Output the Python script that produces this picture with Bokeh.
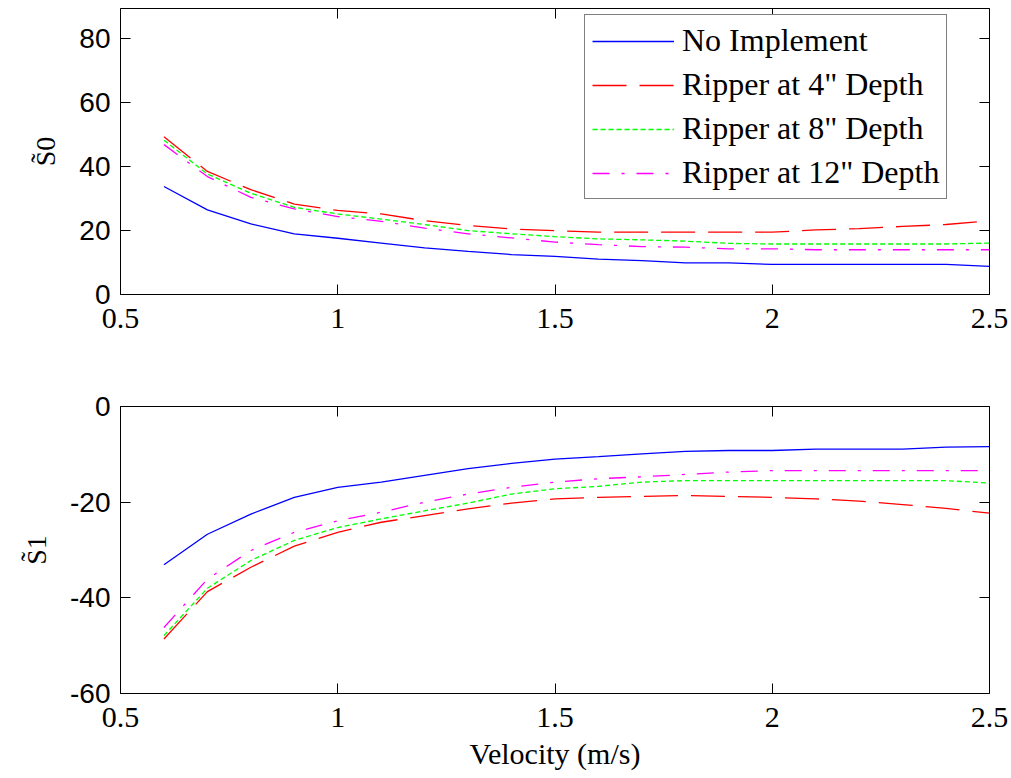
from bokeh.plotting import figure
from bokeh.models import (Range1d, LinearAxis, FixedTicker, Legend, LegendItem,
                          NumeralTickFormatter, CustomJSTickFormatter)
from bokeh.layouts import column
from bokeh.embed import file_html
from bokeh.resources import INLINE

# ---------------- data ----------------
velocity = [0.6, 0.7, 0.8, 0.9, 1.0, 1.1, 1.2, 1.3, 1.4, 1.5,
            1.6, 1.7, 1.8, 1.9, 2.0, 2.1, 2.2, 2.3, 2.4, 2.5]

series_names = ["No Implement", "Ripper at 4\" Depth", "Ripper at 8\" Depth", "Ripper at 12\" Depth"]

no_impl_s0 = [33.8, 26.5, 22.1, 19.0, 17.6, 16.1, 14.6, 13.5, 12.5, 11.9,
              11.1, 10.6, 9.9, 9.9, 9.4, 9.4, 9.4, 9.4, 9.4, 8.8]
rip4_s0 = [49.4, 38.5, 32.8, 28.3, 26.3, 25.2, 23.1, 21.6, 20.5, 20.0,
           19.5, 19.5, 19.5, 19.5, 19.5, 20.2, 20.6, 21.3, 21.9, 23.1]
rip8_s0 = [48.3, 37.7, 31.7, 27.3, 25.2, 23.6, 21.9, 20.0, 19.0, 18.1,
           17.4, 17.1, 16.7, 16.0, 15.8, 15.8, 15.8, 15.8, 15.8, 16.1]
rip12_s0 = [46.9, 36.9, 30.4, 26.8, 24.4, 22.9, 20.8, 19.0, 17.7, 16.4,
            15.6, 15.0, 14.8, 14.3, 14.3, 14.0, 14.0, 14.0, 14.0, 14.0]

no_impl_s1 = [-33.1, -26.7, -22.5, -19.0, -16.9, -15.8, -14.4, -13.0, -11.9, -11.0,
              -10.5, -9.9, -9.4, -9.2, -9.2, -8.9, -8.9, -8.9, -8.5, -8.4]
rip4_s1 = [-48.6, -38.7, -33.6, -29.2, -26.3, -24.2, -22.8, -21.4, -20.2, -19.3,
           -19.0, -18.8, -18.6, -18.8, -19.0, -19.3, -19.8, -20.5, -21.3, -22.3]
rip8_s1 = [-47.9, -38.0, -32.2, -28.0, -25.3, -23.5, -21.8, -20.2, -18.3, -17.2,
           -16.7, -15.8, -15.5, -15.5, -15.5, -15.5, -15.5, -15.5, -15.5, -16.0]
rip12_s1 = [-46.2, -36.1, -30.1, -26.3, -23.9, -22.1, -20.0, -18.3, -16.9, -15.8,
            -15.1, -14.7, -14.2, -13.7, -13.4, -13.4, -13.4, -13.4, -13.4, -13.4]

x_ticks = [0.5, 1.0, 1.5, 2.0, 2.5]
y0_ticks = [0, 20, 40, 60, 80]
y1_ticks = [-60, -40, -20, 0]

# ---------------- styles ----------------
colors = ["#0000ff", "#ff0000", "#00ff00", "#ff00ff"]
dashes = ["solid", "34 13", "5 3", "17 12 3 12"]
SERIF = "Liberation Serif"
SANS = "Liberation Sans"


def style_ticks(ax):
    ax.major_tick_in = 10
    ax.major_tick_out = 0
    ax.minor_tick_in = 0
    ax.minor_tick_out = 0
    ax.major_tick_line_color = "black"
    ax.axis_line_color = None


def make_fig(height, top, bottom, yr, yticks, ylabel):
    p = figure(width=1011, height=height, x_range=Range1d(0.5, 2.5),
               y_range=Range1d(*yr), output_backend="svg", toolbar_location=None,
               min_border_left=120, min_border_right=22,
               min_border_top=top, min_border_bottom=bottom)
    p.xgrid.grid_line_color = None
    p.ygrid.grid_line_color = None
    p.outline_line_color = "black"
    p.outline_line_width = 1
    p.background_fill_color = "white"
    p.border_fill_color = "white"

    xa = p.below[0]
    xa.ticker = FixedTicker(ticks=x_ticks)
    xa.formatter = NumeralTickFormatter(format="0.[0]")
    style_ticks(xa)
    xa.major_label_text_font = SERIF
    xa.major_label_text_font_size = "30px"
    xa.major_label_text_color = "black"
    xa.major_label_standoff = 14

    ya = p.left[0]
    ya.ticker = FixedTicker(ticks=yticks)
    ya.formatter = NumeralTickFormatter(format="0")
    style_ticks(ya)
    ya.major_label_text_font = SANS
    ya.major_label_text_font_size = "28px"
    ya.major_label_text_color = "black"
    ya.major_label_standoff = 10
    ya.axis_label = ylabel
    ya.axis_label_text_font = SERIF
    ya.axis_label_text_font_size = "28px"
    ya.axis_label_text_font_style = "normal"
    ya.axis_label_text_color = "black"
    ya.axis_label_standoff = 15

    blank = CustomJSTickFormatter(code="return ''")
    top_ax = LinearAxis(ticker=FixedTicker(ticks=x_ticks), formatter=blank,
                        major_label_standoff=0)
    style_ticks(top_ax)
    p.add_layout(top_ax, "above")
    right_ax = LinearAxis(ticker=FixedTicker(ticks=yticks), formatter=blank,
                          major_label_standoff=0)
    style_ticks(right_ax)
    p.add_layout(right_ax, "right")
    return p


p1 = make_fig(350, 8, 56, (0, 89.5), y0_ticks, "S\u03030")
p2 = make_fig(428, 56, 85, (-60, 0), y1_ticks, "S\u03031")

top_series = [no_impl_s0, rip4_s0, rip8_s0, rip12_s0]
bot_series = [no_impl_s1, rip4_s1, rip8_s1, rip12_s1]

items = []
for name, ys, c, d in zip(series_names, top_series, colors, dashes):
    r = p1.line(velocity, ys, line_color=c, line_width=1.3, line_dash=d)
    items.append(LegendItem(label=name, renderers=[r]))
for ys, c, d in zip(bot_series, colors, dashes):
    p2.line(velocity, ys, line_color=c, line_width=1.3, line_dash=d)

legend = Legend(items=items, location=(464, 95))
legend.border_line_color = "black"
legend.border_line_width = 1
legend.background_fill_color = "white"
legend.background_fill_alpha = 1
legend.label_text_font = SERIF
legend.label_text_font_size = "32px"
legend.label_text_color = "black"
legend.glyph_width = 82
legend.glyph_height = 36
legend.label_height = 36
legend.spacing = 7
legend.padding = 7
legend.label_standoff = 8
legend.margin = 0
p1.add_layout(legend)

xlab = p2.below[0]
xlab.axis_label = "Velocity (m/s)"
xlab.axis_label_text_font = SERIF
xlab.axis_label_text_font_size = "30px"
xlab.axis_label_text_font_style = "normal"
xlab.axis_label_text_color = "black"
xlab.axis_label_standoff = 7

layout = column(p1, p2, spacing=0)
open("out.html", "w").write(file_html(layout, INLINE))
